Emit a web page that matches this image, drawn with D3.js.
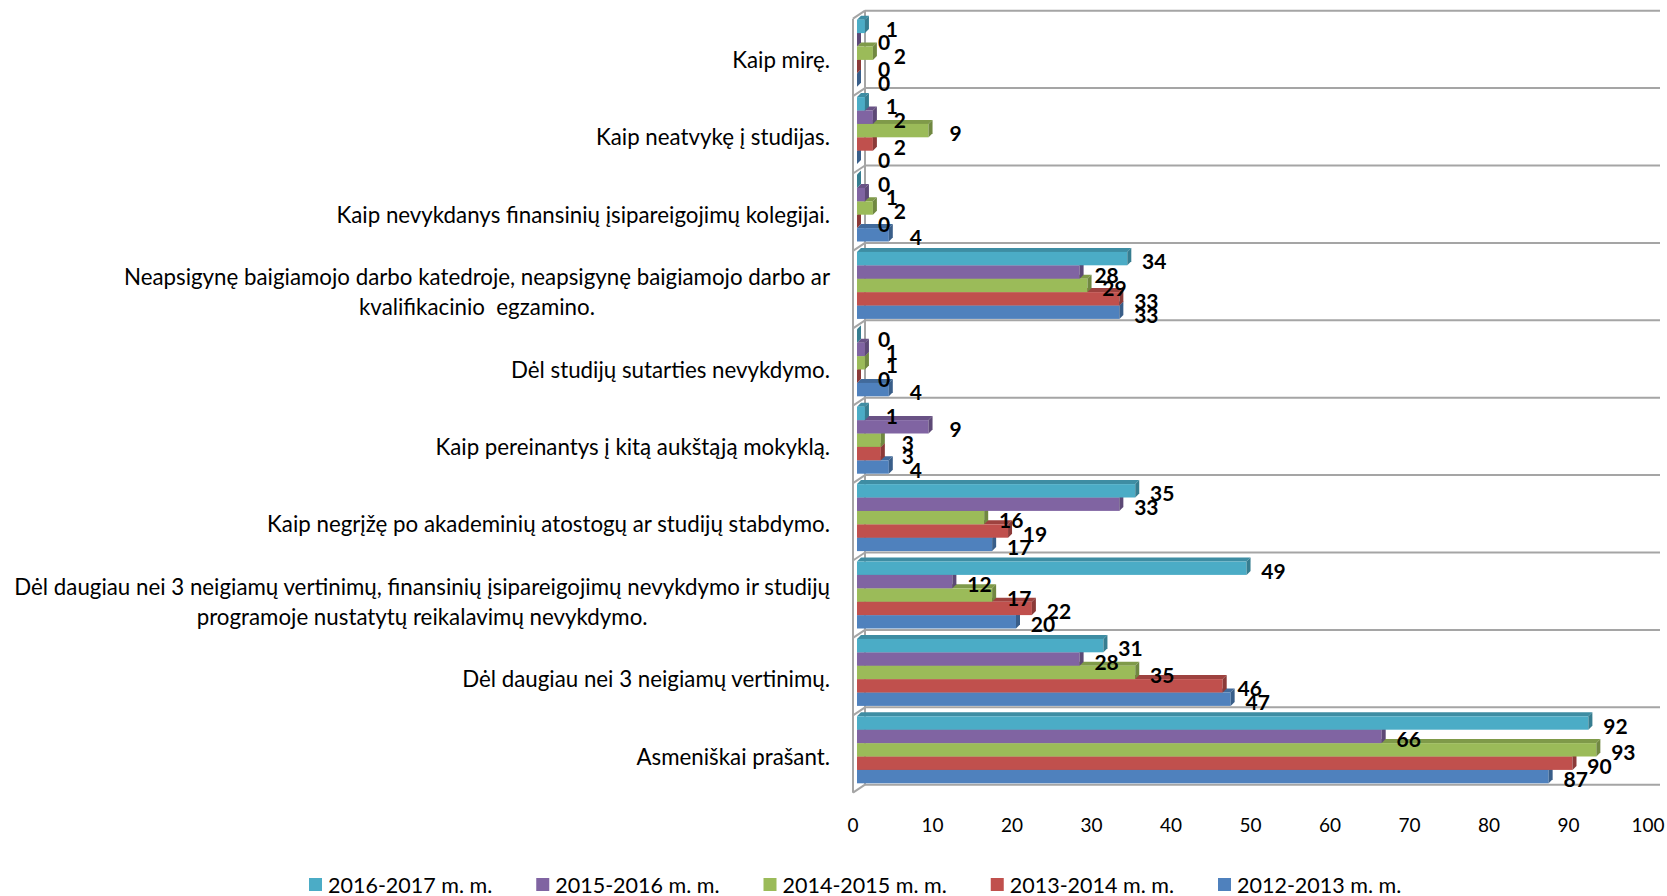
<!DOCTYPE html>
<html>
<head>
<meta charset="utf-8">
<script src="https://cdn.jsdelivr.net/npm/d3@7"></script>
<style>
  html, body { margin: 0; padding: 0; background: #ffffff; }
  svg { display: block; }
</style>
</head>
<body>
<svg id="chart" width="1667" height="896"></svg>
<script>
// ---------- data ----------
const categories = [
  ["Kaip mirę."],
  ["Kaip neatvykę į studijas."],
  ["Kaip nevykdanys finansinių įsipareigojimų kolegijai."],
  ["Neapsigynę baigiamojo darbo katedroje, neapsigynę baigiamojo darbo ar", "kvalifikacinio  egzamino."],
  ["Dėl studijų sutarties nevykdymo."],
  ["Kaip pereinantys į kitą aukštąją mokyklą."],
  ["Kaip negrįžę po akademinių atostogų ar studijų stabdymo."],
  ["Dėl daugiau nei 3 neigiamų vertinimų, finansinių įsipareigojimų nevykdymo ir studijų", "programoje nustatytų reikalavimų nevykdymo."],
  ["Dėl daugiau nei 3 neigiamų vertinimų."],
  ["Asmeniškai prašant."]
];
const seriesNames = ["2016-2017 m. m.", "2015-2016 m. m.", "2014-2015 m. m.", "2013-2014 m. m.", "2012-2013 m. m."];
const values2016_2017 = [1, 1, 0, 34, 0, 1, 35, 49, 31, 92];
const values2015_2016 = [0, 2, 1, 28, 1, 9, 33, 12, 28, 66];
const values2014_2015 = [2, 9, 2, 29, 1, 3, 16, 17, 35, 93];
const values2013_2014 = [0, 2, 0, 33, 0, 3, 19, 22, 46, 90];
const values2012_2013 = [0, 0, 4, 33, 4, 4, 17, 20, 47, 87];
const seriesValues = [values2016_2017, values2015_2016, values2014_2015, values2013_2014, values2012_2013];
const seriesColors = ["#4BACC6", "#8064A2", "#9BBB59", "#C0504D", "#4F81BD"];
const xTicks = [0, 10, 20, 30, 40, 50, 60, 70, 80, 90, 100];

// ---------- layout ----------
const svg = d3.select("#chart");
const FONT = "Lato, 'Open Sans', sans-serif";
const gridTop = 10.7, gridBottom = 784.7;   // back plane
const depthX = 12, depthY = 8;              // wall depth
const wallFrontX = 853;
const barDX = 4, barDY = 4;                 // bar 3D depth

const xBar = d3.scaleLinear().domain([0, 100]).range([857, 1652]);
const xFront = d3.scaleLinear().domain([0, 100]).range([wallFrontX, wallFrontX + 795]);
const yCat = d3.scaleBand().domain(d3.range(categories.length)).range([gridTop, gridBottom]).padding(0);
const ySer = d3.scaleBand().domain(d3.range(seriesNames.length)).range([9, 76]).padding(0);

const gridColor = "#A5A5A5";

// gridlines (back wall)
const bounds = d3.range(categories.length + 1).map(i => gridTop + i * yCat.step());
svg.append("g").selectAll("line").data(bounds).join("line")
  .attr("x1", wallFrontX + depthX).attr("x2", 1660)
  .attr("y1", d => d).attr("y2", d => d)
  .attr("stroke", gridColor).attr("stroke-width", 2);

// left wall
const wall = svg.append("g").attr("stroke", gridColor).attr("stroke-width", 2).attr("fill", "none");
wall.append("line").attr("x1", wallFrontX).attr("x2", wallFrontX)
  .attr("y1", gridTop + depthY).attr("y2", gridBottom + depthY);
wall.append("line").attr("x1", wallFrontX + depthX).attr("x2", wallFrontX + depthX)
  .attr("y1", gridTop).attr("y2", gridBottom);
wall.selectAll("line.diag").data(bounds).join("line").attr("class", "diag")
  .attr("x1", wallFrontX).attr("y1", d => d + depthY)
  .attr("x2", wallFrontX + depthX).attr("y2", d => d);

// bars
const barsG = svg.append("g");
const h = ySer.bandwidth();
categories.forEach((cat, ci) => {
  for (let si = seriesNames.length - 1; si >= 0; si--) {
    const v = seriesValues[si][ci];
    const y = yCat(ci) + ySer(si);
    const x0 = xBar(0), x1 = xBar(v);
    const base = d3.color(seriesColors[si]);
    const topC = base.darker(0.55).formatHex();
    const sideC = base.darker(0.9).formatHex();
    const g = barsG.append("g");
    g.append("path")
      .attr("d", `M${x0},${y} L${x0 + barDX},${y - barDY} L${x1 + barDX},${y - barDY} L${x1},${y} Z`)
      .attr("fill", topC);
    g.append("rect").attr("x", x0).attr("y", y).attr("width", Math.max(0, x1 - x0)).attr("height", h)
      .attr("fill", seriesColors[si]);
    g.append("path")
      .attr("d", `M${x1},${y} L${x1 + barDX},${y - barDY} L${x1 + barDX},${y + h - barDY} L${x1},${y + h} Z`)
      .attr("fill", sideC);
  }
});

// data labels
const labelsG = svg.append("g");
categories.forEach((cat, ci) => {
  seriesNames.forEach((s, si) => {
    const v = seriesValues[si][ci];
    labelsG.append("text")
      .attr("x", xBar(v) + 27)
      .attr("y", yCat(ci) + ySer(si) + h / 2 + 2)
      .attr("text-anchor", "middle")
      .attr("dominant-baseline", "central")
      .attr("font-family", FONT).attr("font-weight", "bold").attr("font-size", 21)
      .attr("fill", "#000")
      .text(v);
  });
});

// category labels
const catG = svg.append("g");
const lineH = 30;
categories.forEach((lines, ci) => {
  const cy = yCat(ci) + yCat.bandwidth() / 2 + 10;
  const t = catG.append("g");
  const texts = lines.map((ln, li) => t.append("text")
    .attr("font-family", FONT).attr("font-size", 22.3).attr("fill", "#000")
    .attr("dominant-baseline", "central")
    .attr("y", cy + (li - (lines.length - 1) / 2) * lineH)
    .style("white-space", "pre")
    .text(ln));
  const maxW = d3.max(texts, n => n.node().getComputedTextLength());
  const cx = 830 - maxW / 2;
  texts.forEach(n => n.attr("x", cx).attr("text-anchor", "middle"));
});

// x axis tick labels
svg.append("g").selectAll("text").data(xTicks).join("text")
  .attr("x", d => xFront(d)).attr("y", 824)
  .attr("text-anchor", "middle").attr("dominant-baseline", "central")
  .attr("font-family", FONT).attr("font-size", 19).attr("fill", "#000")
  .text(d => d);

// legend
const legend = svg.append("g");
const legX = d3.scalePoint().domain(d3.range(seriesNames.length)).range([309, 1218]);
seriesNames.forEach((s, si) => {
  const x = legX(si);
  legend.append("rect").attr("x", x).attr("y", 878).attr("width", 13).attr("height", 13)
    .attr("fill", seriesColors[si]);
  legend.append("text").attr("x", x + 19).attr("y", 884.5)
    .attr("dominant-baseline", "central")
    .attr("font-family", FONT).attr("font-size", 21.5).attr("fill", "#000")
    .text(s);
});
</script>
</body>
</html>
